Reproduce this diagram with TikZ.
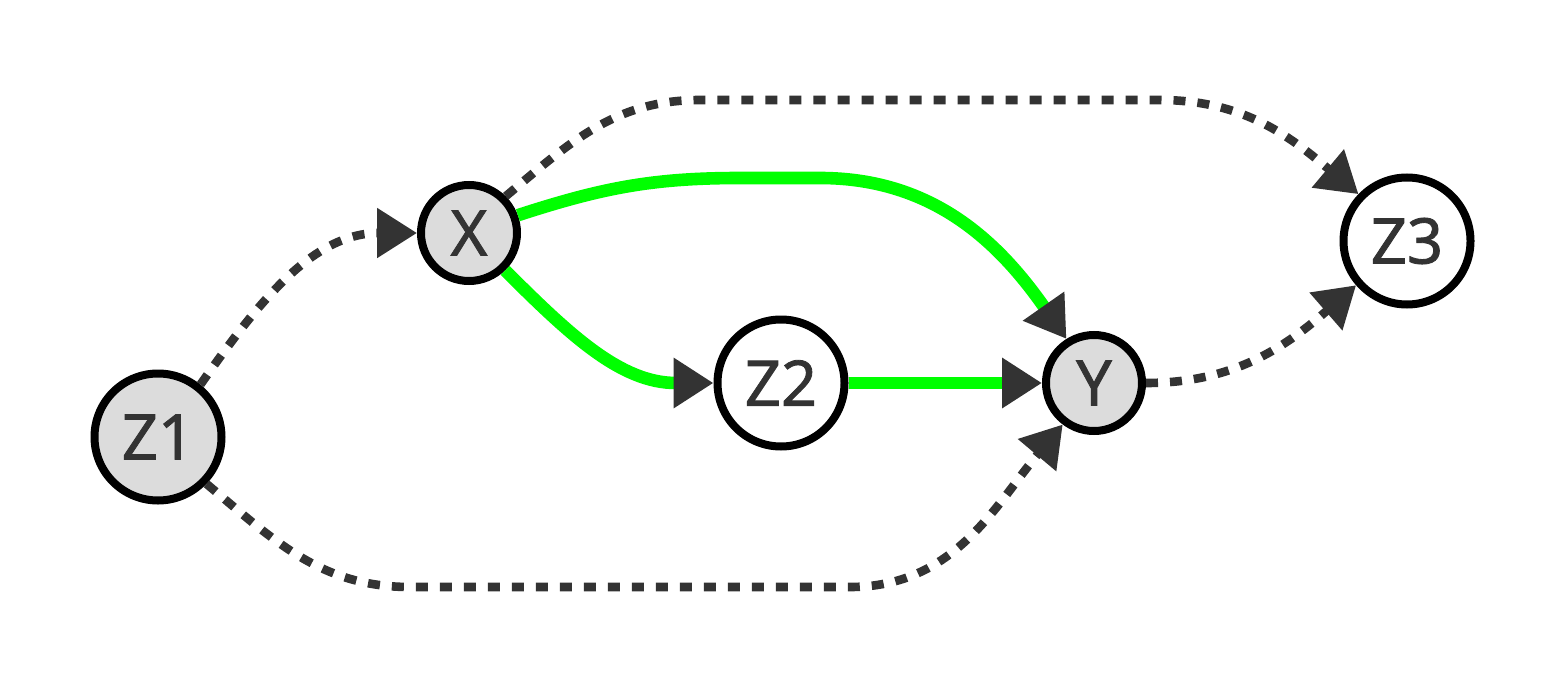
\documentclass[tikz,border=0pt]{standalone}
\usepackage{fontspec}
\newfontfamily\lblfont{Noto Sans}[FakeBold=1.3]
\usetikzlibrary{arrows.meta}
\definecolor{dk}{HTML}{333333}
\definecolor{nodegray}{HTML}{DCDCDC}
\definecolor{grn}{HTML}{00FF00}
\tikzset{
  var/.style={circle, draw=black, line width=4pt, text=dk, inner sep=0pt,
    font=\lblfont\fontsize{31.5}{36}\selectfont},
  bigvar/.style={var, minimum size=63.5pt},
  smallvar/.style={var, minimum size=48pt},
  obs/.style={fill=nodegray},
  lat/.style={fill=white},
  tip/.style={-{Triangle[length=20pt,width=24pt,color=dk]}},
  dotedge/.style={tip, draw=dk, line width=4.3pt, dash pattern=on 6pt off 6pt},
  grnedge/.style={tip, draw=grn, line width=6.3pt},
}
\begin{document}
\begin{tikzpicture}[x=0.5pt,y=-0.5pt]
\useasboundingbox (0,0) rectangle (1568,690);
\node[bigvar,obs] (Z1) at (158,437) {Z1};
\node[smallvar,obs] (X) at (469,233) {X};
\node[bigvar,lat] (Z2) at (781,383) {Z2};
\node[smallvar,obs] (Y) at (1094,383) {Y};
\node[bigvar,lat] (Z3) at (1407,241) {Z3};

\draw[dotedge] (Z1.51) to[out=55,in=180] (X.west);
\draw[dotedge] (X.45) to[out=40,in=180] (700,100) -- (1160,100) to[out=0,in=140] (Z3.136);
\draw[dotedge] (Z1.-44) to[out=-40,in=180] (410,587) -- (850,587) to[out=0,in=230] (Y.233);
\draw[dotedge] (Y.east) to[out=0,in=221] (Z3.221);

\draw[grnedge] (X.20) to[out=18,in=180] (740,178) -- (820,178) to[out=0,in=125] (Y.122);
\draw[grnedge] (X.-46) to[out=-45,in=180] (Z2.west);
\draw[grnedge] (Z2.east) -- (Y.west);
\end{tikzpicture}
\end{document}
